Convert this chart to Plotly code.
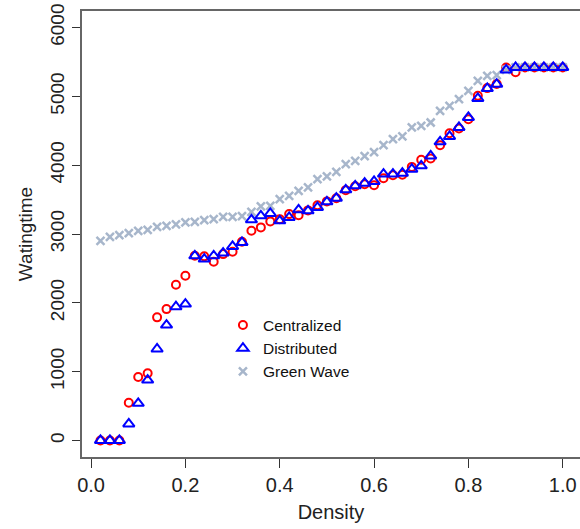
import plotly.graph_objects as go

density = [0.02, 0.04, 0.06, 0.08, 0.10, 0.12, 0.14, 0.16, 0.18, 0.20,
           0.22, 0.24, 0.26, 0.28, 0.30, 0.32, 0.34, 0.36, 0.38, 0.40,
           0.42, 0.44, 0.46, 0.48, 0.50, 0.52, 0.54, 0.56, 0.58, 0.60,
           0.62, 0.64, 0.66, 0.68, 0.70, 0.72, 0.74, 0.76, 0.78, 0.80,
           0.82, 0.84, 0.86, 0.88, 0.90, 0.92, 0.94, 0.96, 0.98, 1.00]

centralized = [0, 0, 0, 549, 922, 976, 1789, 1909, 2262, 2393,
               2683, 2675, 2596, 2708, 2741, 2887, 3046, 3096, 3183, 3216,
               3289, 3274, 3343, 3416, 3474, 3520, 3637, 3695, 3724, 3709,
               3810, 3855, 3860, 3975, 4078, 4097, 4291, 4465, 4533, 4668,
               5007, 5120, 5180, 5419, 5350, 5420, 5420, 5420, 5420, 5420]

distributed = [0, 0, 0, 240, 540, 878, 1329, 1677, 1943, 1982,
               2683, 2635, 2683, 2723, 2820, 2878, 3206, 3264, 3299, 3192,
               3241, 3351, 3337, 3386, 3467, 3521, 3642, 3700, 3739, 3764,
               3870, 3870, 3884, 3942, 3990, 4135, 4339, 4417, 4548, 4693,
               4969, 5114, 5176, 5384, 5420, 5420, 5420, 5420, 5420, 5420]

green_wave = [2901, 2959, 2984, 3013, 3046, 3061, 3104, 3119, 3139, 3168,
              3177, 3202, 3216, 3250, 3250, 3260, 3322, 3401, 3409, 3507,
              3555, 3627, 3677, 3797, 3836, 3903, 4015, 4063, 4130, 4190,
              4291, 4378, 4417, 4548, 4571, 4620, 4789, 4861, 4959, 5079,
              5224, 5297, 5307, 5384, 5420, 5420, 5420, 5420, 5420, 5420]

x_ticks = [0.0, 0.2, 0.4, 0.6, 0.8, 1.0]
x_ticktext = ["0.0", "0.2", "0.4", "0.6", "0.8", "1.0"]
y_ticks = [0, 1000, 2000, 3000, 4000, 5000, 6000]
y_ticktext = ["0", "1000", "2000", "3000", "4000", "5000", "6000"]

FONT = "Liberation Sans, Arial, sans-serif"

fig = go.Figure()
fig.add_trace(go.Scatter(
    x=density, y=centralized, mode="markers", name="Centralized", legendrank=1,
    marker=dict(symbol="circle-open", size=8, color="#ff0000", line=dict(width=2, color="#ff0000")),
))
fig.add_trace(go.Scatter(
    x=density, y=green_wave, mode="markers", name="Green Wave", legendrank=3,
    marker=dict(symbol="x-thin-open", size=8, color="#a7b6cb", line=dict(width=2.5, color="#a7b6cb")),
))
fig.add_trace(go.Scatter(
    x=density, y=distributed, mode="markers", name="Distributed", legendrank=2,
    marker=dict(symbol="triangle-up-open", size=10, color="#0000ff", line=dict(width=2, color="#0000ff")),
))

fig.update_layout(
    width=580, height=529,
    margin=dict(l=82, r=0, t=11, b=72, autoexpand=False),
    paper_bgcolor="white", plot_bgcolor="white",
    font=dict(family=FONT, color="#222222", size=18),
    showlegend=True,
    legend=dict(
        x=0.283, y=0.333, xanchor="left", yanchor="top",
        bgcolor="rgba(0,0,0,0)", font=dict(family=FONT, size=15.5, color="#111111"),
        tracegroupgap=0, itemwidth=30,
    ),
    xaxis=dict(
        range=[-0.0192, 1.0366], tickvals=x_ticks, ticktext=x_ticktext, automargin=False,
        ticklabeloverflow="allow",
        showgrid=False, zeroline=False, showline=True, linecolor="#666666", linewidth=2, mirror=True,
        ticks="outside", ticklen=9, tickcolor="#333333", tickwidth=1,
        tickfont=dict(family=FONT, size=20, color="#222222"),
        title=dict(text="Density", font=dict(family=FONT, size=20, color="#222222"), standoff=10),
    ),
    yaxis=dict(
        range=[-240, 6240], tickvals=y_ticks, ticktext=y_ticktext, automargin=False,
        ticklabeloverflow="allow",
        showgrid=False, zeroline=False, showline=True, linecolor="#666666", linewidth=2,
        ticks="outside", ticklen=8, tickcolor="#333333", tickwidth=1, tickangle=-90,
        tickfont=dict(family=FONT, size=19, color="#222222"),
        title=dict(text="Watingtime", font=dict(family=FONT, size=19, color="#222222"), standoff=10),
    ),
)

# Remove the browser's default 8px body margin so the figure sits at the window origin.
fig.write_html("out.html", config={"displayModeBar": False},
               post_script="document.body.style.margin='0px';")
